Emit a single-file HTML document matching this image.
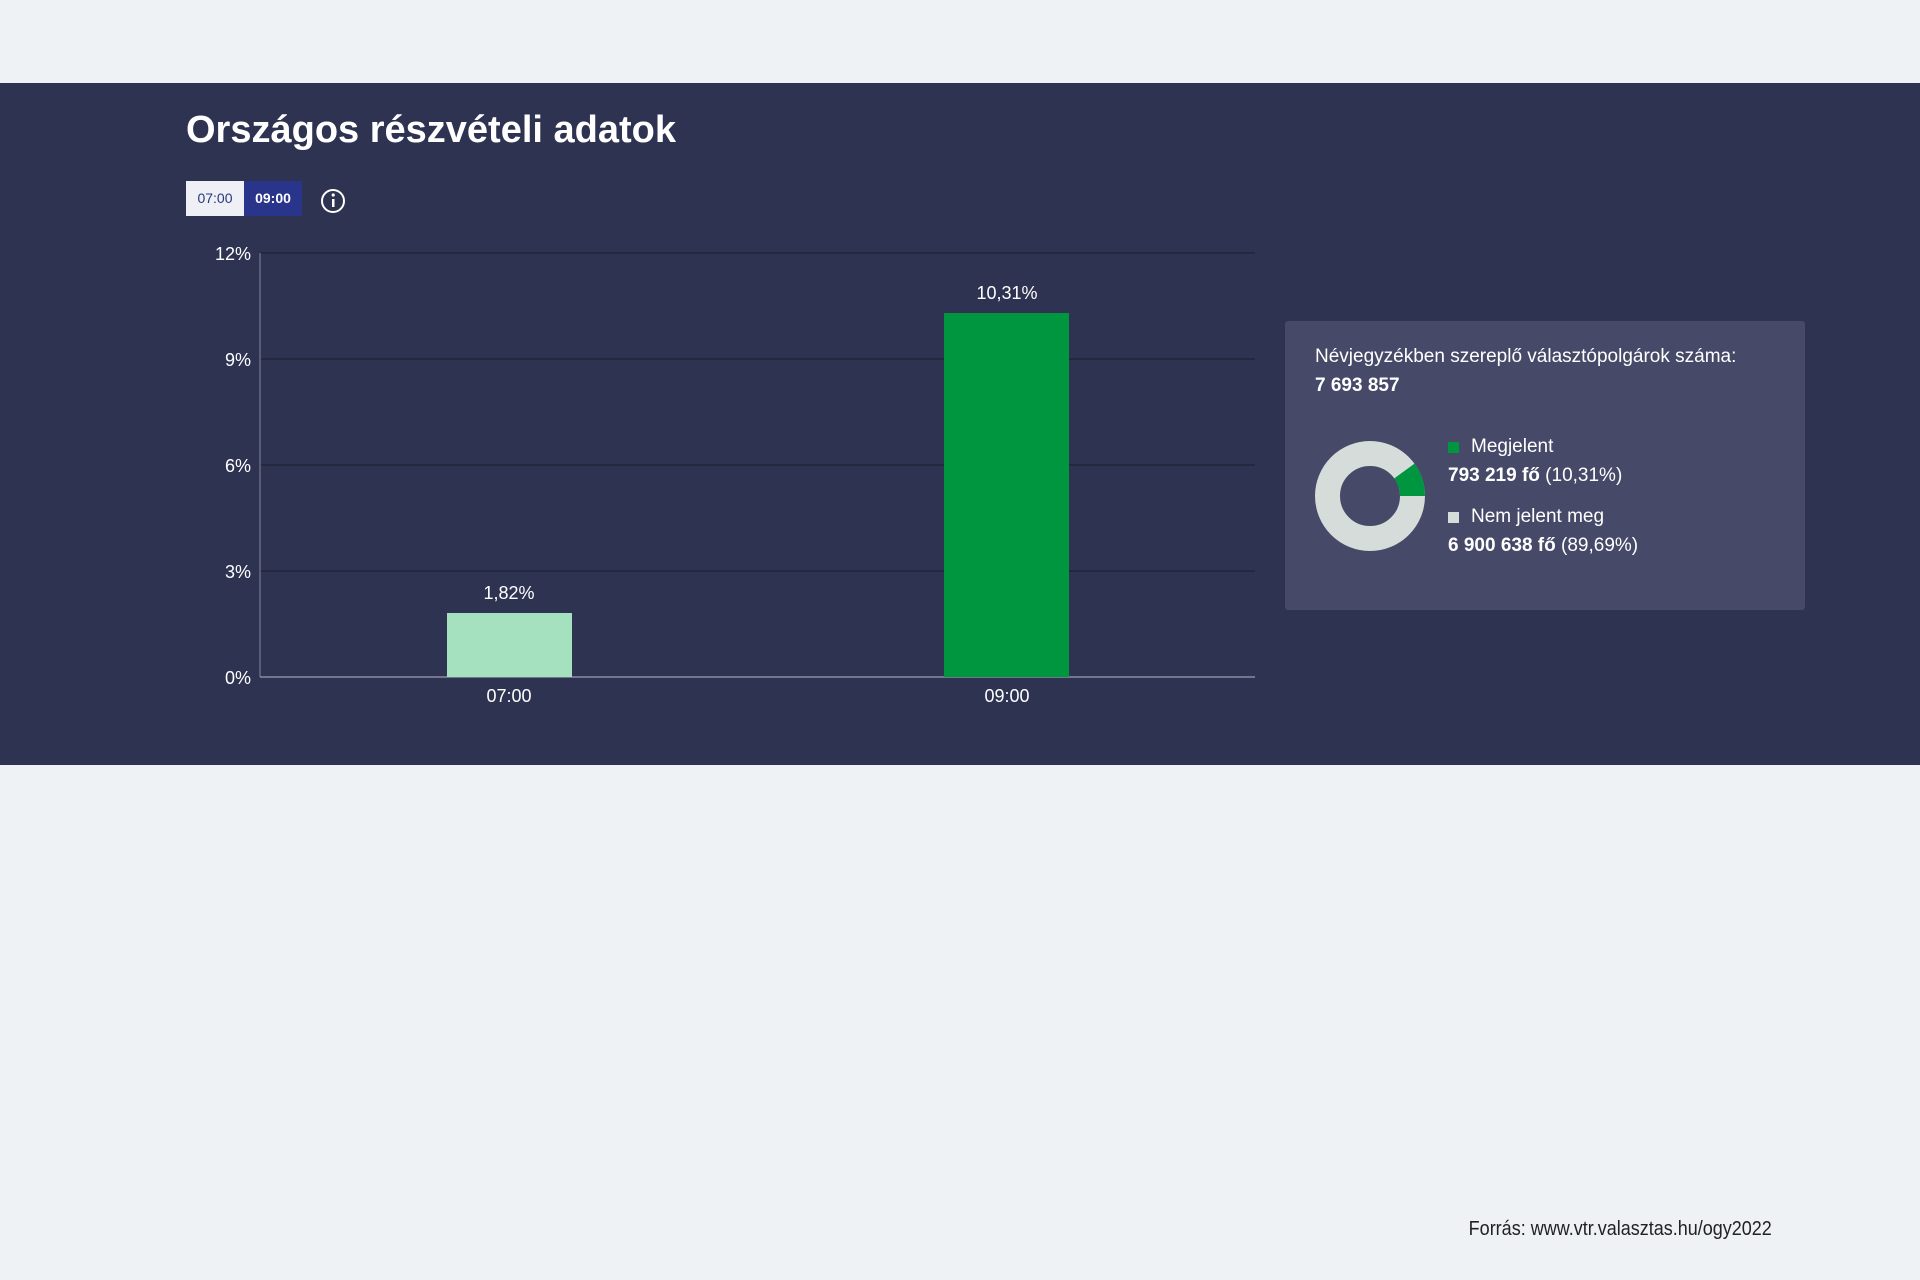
<!DOCTYPE html>
<html><head><meta charset="utf-8"><style>
body{margin:0;width:1920px;height:1280px;background:#eff2f5;font-family:"Liberation Sans",sans-serif;position:relative;overflow:hidden}
.band{position:absolute;left:0;top:83px;width:1920px;height:682px;background:#2f3352}
.t{position:absolute;white-space:nowrap}
</style></head><body>
<div class="band"></div>
<div class="t" style="left:186px;top:109px;font-size:38px;font-weight:bold;color:#fff">Országos részvételi adatok</div>
<div class="t" style="left:186px;top:181px;width:58px;height:35px;background:#eef0f6;color:#2a3580;font-size:14px;line-height:35px;text-align:center">07:00</div>
<div class="t" style="left:244px;top:181px;width:58px;height:35px;background:#28358a;color:#fff;font-size:14px;font-weight:bold;line-height:35px;text-align:center">09:00</div>
<svg class="t" style="left:0;top:0" width="1920" height="1280">
<circle cx="333" cy="201" r="11" fill="none" stroke="#fff" stroke-width="2"/>
<rect x="332" y="199" width="2.5" height="8" fill="#fff"/><circle cx="333.2" cy="195" r="1.6" fill="#fff"/>
<g stroke="#22263a" stroke-width="1.5">
<line x1="260" y1="253" x2="1255" y2="253"/><line x1="260" y1="359" x2="1255" y2="359"/>
<line x1="260" y1="465" x2="1255" y2="465"/><line x1="260" y1="571" x2="1255" y2="571"/></g>
<line x1="260" y1="253" x2="260" y2="677" stroke="#666a80" stroke-width="1.5"/>
<line x1="260" y1="677" x2="1255" y2="677" stroke="#8a8ea0" stroke-width="1.5"/>
<rect x="447" y="613" width="125" height="64" fill="#a5e0bf"/>
<rect x="944" y="313" width="125" height="364" fill="#00963f"/>
<g fill="#fff" font-size="18" font-family="Liberation Sans" text-anchor="end">
<text x="251" y="260">12%</text><text x="251" y="366">9%</text><text x="251" y="472">6%</text><text x="251" y="578">3%</text><text x="251" y="684">0%</text></g>
<g fill="#fff" font-size="18" font-family="Liberation Sans" text-anchor="middle">
<text x="509" y="599">1,82%</text><text x="1007" y="299">10,31%</text>
<text x="509" y="702">07:00</text><text x="1007" y="702">09:00</text></g>
<rect x="1285" y="321" width="520" height="289" rx="3" fill="#464a68"/>
<circle cx="1370" cy="496" r="42.5" fill="none" stroke="#d5dcda" stroke-width="25"/>
<path d="M1404.4 471 A42.5 42.5 0 0 1 1412.5 496" fill="none" stroke="#00963f" stroke-width="25"/>
<rect x="1448" y="442" width="11" height="11" fill="#00963f"/>
<rect x="1448" y="512" width="11" height="11" fill="#d5dcda"/>
</svg>
<div class="t" style="left:1315px;top:346px;font-size:19px;color:#fff">Névjegyzékben szereplő választópolgárok száma:</div>
<div class="t" style="left:1315px;top:375px;font-size:19px;color:#fff;font-weight:bold">7 693 857</div>
<div class="t" style="left:1471px;top:436px;font-size:19px;color:#fff">Megjelent</div>
<div class="t" style="left:1448px;top:465px;font-size:19px;color:#fff"><b>793 219 fő</b> (10,31%)</div>
<div class="t" style="left:1471px;top:506px;font-size:19px;color:#fff">Nem jelent meg</div>
<div class="t" style="left:1448px;top:535px;font-size:19px;color:#fff"><b>6 900 638 fő</b> (89,69%)</div>
<div class="t" style="right:148px;top:1218px;font-size:20px;color:#222;transform:scaleX(0.9);transform-origin:right top">Forrás: www.vtr.valasztas.hu/ogy2022</div>
</body></html>
